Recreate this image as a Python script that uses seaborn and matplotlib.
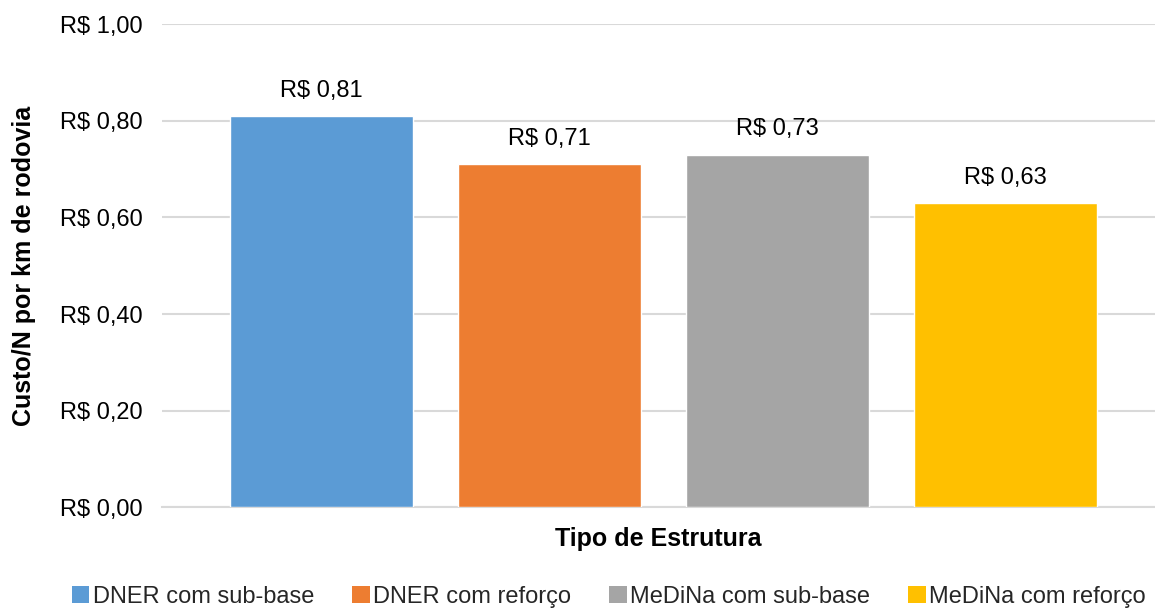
import matplotlib
matplotlib.use("Agg")
import matplotlib.pyplot as plt
from matplotlib.patches import Patch
import seaborn as sns
import pandas as pd

# Cost per N per km of road, by pavement structure type
estruturas = ["DNER com sub-base", "DNER com reforço", "MeDiNa com sub-base", "MeDiNa com reforço"]
custos = [0.81, 0.71, 0.73, 0.63]
cores = ["#5B9BD5", "#ED7D31", "#A5A5A5", "#FFC000"]
yticks = [0.0, 0.2, 0.4, 0.6, 0.8, 1.0]

sns.set_theme(style="white")
plt.rcParams["font.family"] = ["Liberation Sans", "DejaVu Sans"]

df = pd.DataFrame({"Estrutura": estruturas, "Custo": custos})

fig = plt.figure(figsize=(11.55, 6.08), dpi=100)
ax = fig.add_axes([162 / 1155, 1 - 507.3 / 608, (1155 - 162) / 1155, (507.3 - 24.3) / 608])

sns.barplot(data=df, x="Estrutura", y="Custo", hue="Estrutura", palette=cores,
            width=0.803, saturation=1, legend=False, ax=ax, zorder=3)

def brl(v):
    return "R$ " + f"{v:.2f}".replace(".", ",")

for i, v in enumerate(custos):
    ax.text(i, v + 0.03, brl(v), ha="center", va="bottom", fontsize=17, color="#000000")

ax.set_ylim(0, 1.0)
ax.set_xlim(-0.698, (1155 - 162) / 228 - 0.698)
ax.set_yticks(yticks)
ax.set_yticklabels([brl(t) for t in yticks], fontsize=17, color="#000000")
ax.set_xticks([])
ax.tick_params(axis="y", length=0, pad=14)
ax.yaxis.grid(True, color="#D9D9D9", linewidth=1.5, zorder=0)
ax.set_axisbelow(True)
for s in ["top", "right", "left"]:
    ax.spines[s].set_visible(False)
ax.spines["bottom"].set_color("#D9D9D9")
ax.spines["bottom"].set_linewidth(1.5)

ax.set_xlabel("Tipo de Estrutura", fontsize=18, fontweight="bold", color="#000000", labelpad=14)
ax.set_ylabel("Custo/N por km de rodovia", fontsize=18, fontweight="bold", color="#000000")
ax.yaxis.set_label_coords(-126 / 993, 0.5)

handles = [Patch(facecolor=c, edgecolor="none") for c in cores]
fig.legend(handles, estruturas, loc="lower center", ncol=4, frameon=False,
           fontsize=17, handlelength=0.75, handleheight=0.75, handletextpad=0.15,
           columnspacing=1.6, bbox_to_anchor=(0.527, -0.035))

fig.savefig("out.png", dpi=100, facecolor="white")
